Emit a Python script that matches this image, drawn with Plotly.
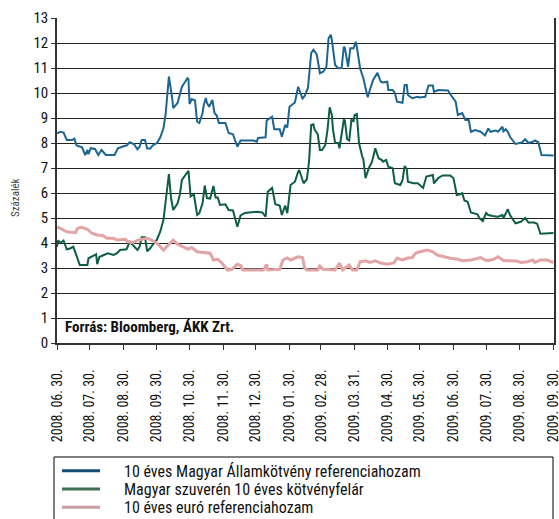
import pandas as pd
import plotly.graph_objects as go

START = "2008-06-30"

# day offsets from 2008-06-30 and values (percent)
huf_days = [0, 3, 6, 9, 14, 16, 18, 23, 26, 28, 29, 31, 35, 38, 41, 45, 53, 56, 62, 64, 67, 71, 74, 76, 78, 81, 83, 86, 88, 92, 95, 98, 100, 101, 103, 106, 107, 111, 113, 115, 118, 120, 121, 122, 124, 127, 129, 131, 134, 135, 137, 138, 140, 142, 143, 145, 147, 149, 155, 158, 162, 166, 169, 181, 184, 185, 192, 193, 198, 200, 205, 207, 210, 212, 214, 219, 222, 226, 228, 231, 234, 236, 239, 240, 242, 245, 248, 250, 252, 253, 256, 259, 262, 264, 265, 268, 270, 273, 275, 276, 279, 282, 284, 286, 288, 291, 295, 298, 300, 304, 305, 309, 311, 313, 318, 320, 322, 323, 327, 332, 334, 339, 342, 346, 347, 351, 360, 362, 367, 369, 373, 376, 379, 381, 385, 390, 394, 397, 399, 404, 406, 410, 411, 413, 415, 417, 422, 428, 431, 434, 438, 440, 443, 446, 457]
huf_vals = [8.39, 8.45, 8.42, 8.12, 8.12, 8.18, 7.9, 7.83, 7.52, 7.72, 7.55, 7.79, 7.76, 7.52, 7.72, 7.52, 7.52, 7.79, 7.88, 7.9, 8.03, 7.95, 7.75, 7.85, 8.12, 8.12, 7.78, 7.78, 7.9, 8.0, 8.22, 8.59, 9.15, 9.6, 10.66, 9.8, 9.4, 9.6, 9.95, 10.25, 10.45, 10.59, 10.56, 9.56, 9.76, 9.7, 8.85, 8.8, 9.2, 9.5, 9.8, 9.6, 9.45, 9.65, 9.72, 9.2, 9.1, 8.8, 8.8, 8.4, 8.35, 7.85, 8.1, 8.1, 8.05, 8.2, 8.23, 8.9, 9.05, 8.55, 8.55, 8.25, 8.72, 8.62, 9.45, 9.62, 10.25, 9.78, 9.88, 10.2, 11.6, 11.73, 11.55, 11.32, 10.79, 10.85, 11.05, 12.19, 12.33, 12.13, 11.12, 10.99, 11.0, 11.85, 11.8, 11.05, 11.79, 11.79, 12.05, 11.85, 10.99, 10.59, 10.2, 9.83, 10.12, 10.52, 10.81, 10.45, 10.42, 10.45, 10.12, 10.12, 10.0, 9.65, 9.61, 10.32, 10.32, 9.92, 9.79, 9.85, 9.82, 9.85, 10.3, 10.3, 10.05, 10.12, 10.1, 9.95, 9.65, 9.12, 9.2, 8.92, 8.92, 8.45, 8.52, 8.45, 8.3, 8.58, 8.45, 8.5, 8.45, 8.65, 8.47, 8.55, 8.45, 8.25, 7.96, 8.02, 8.15, 8.0, 8.05, 8.1, 8.03, 7.52, 7.5]

spread_days = [0, 1, 3, 5, 6, 9, 12, 15, 18, 21, 28, 29, 35, 36, 37, 39, 42, 47, 52, 55, 58, 64, 67, 70, 74, 76, 78, 81, 83, 86, 88, 92, 95, 98, 100, 103, 105, 107, 111, 113, 115, 118, 121, 123, 126, 129, 131, 134, 136, 138, 141, 144, 146, 148, 150, 155, 158, 162, 166, 169, 173, 184, 189, 192, 194, 198, 201, 205, 207, 210, 212, 215, 219, 222, 223, 227, 230, 232, 234, 236, 237, 240, 242, 244, 247, 249, 251, 253, 254, 256, 259, 260, 263, 264, 265, 267, 269, 271, 273, 274, 276, 278, 281, 282, 284, 287, 290, 293, 296, 299, 300, 303, 305, 309, 311, 316, 318, 320, 322, 323, 328, 332, 334, 337, 340, 346, 347, 351, 355, 362, 365, 368, 371, 373, 375, 378, 381, 387, 389, 392, 395, 397, 401, 406, 410, 411, 415, 417, 422, 427, 431, 434, 439, 442, 445, 457]
spread_vals = [3.85, 4.1, 4.0, 4.05, 4.1, 3.75, 3.78, 3.85, 3.48, 3.12, 3.12, 3.39, 3.52, 3.55, 3.15, 3.44, 3.5, 3.59, 3.52, 3.58, 3.72, 3.75, 4.05, 3.92, 3.72, 3.85, 4.23, 4.23, 3.67, 3.8, 3.93, 4.13, 4.45, 4.92, 5.72, 6.76, 5.79, 5.32, 5.59, 5.92, 6.52, 6.72, 6.89, 5.86, 5.95, 5.12, 5.19, 5.59, 6.3, 5.8, 5.78, 6.28, 5.82, 5.82, 5.52, 5.55, 5.32, 5.3, 4.65, 5.1, 5.2, 5.25, 5.22, 5.05, 6.05, 6.2, 5.55, 5.5, 5.12, 5.5, 5.19, 6.32, 6.45, 6.85, 6.92, 6.39, 6.55, 7.25, 8.72, 8.75, 8.55, 8.36, 7.72, 7.72, 7.92, 8.52, 9.43, 9.12, 8.55, 8.0, 8.0, 7.79, 8.79, 8.92, 8.9, 8.16, 8.1, 8.92, 8.88, 9.12, 9.16, 8.0, 7.46, 7.35, 6.59, 6.99, 7.25, 7.79, 7.39, 7.32, 7.25, 7.32, 7.05, 6.99, 6.39, 6.32, 6.5, 7.08, 6.95, 6.45, 6.39, 6.39, 6.32, 6.2, 6.66, 6.72, 6.39, 6.6, 6.7, 6.7, 6.59, 5.92, 5.95, 5.99, 5.7, 5.65, 5.22, 5.15, 4.99, 4.88, 5.2, 5.12, 5.08, 5.05, 5.12, 5.0, 5.35, 5.12, 4.79, 4.85, 5.0, 4.82, 4.82, 4.77, 4.37, 4.4]

euro_days = [0, 5, 9, 17, 19, 23, 28, 32, 37, 42, 46, 52, 55, 63, 65, 70, 75, 83, 88, 92, 98, 102, 107, 111, 116, 121, 124, 129, 141, 144, 148, 152, 157, 161, 166, 169, 171, 190, 193, 194, 205, 208, 212, 215, 222, 226, 228, 230, 240, 242, 245, 256, 260, 263, 269, 272, 276, 279, 284, 288, 293, 298, 304, 310, 313, 318, 322, 327, 330, 334, 341, 346, 350, 356, 362, 369, 373, 381, 387, 390, 394, 397, 402, 406, 411, 417, 423, 427, 433, 438, 440, 445, 451, 457]
euro_vals = [4.65, 4.52, 4.45, 4.41, 4.59, 4.63, 4.55, 4.39, 4.32, 4.3, 4.19, 4.19, 4.12, 4.15, 4.05, 4.02, 4.12, 4.19, 4.1, 3.99, 3.72, 3.9, 4.12, 3.95, 3.85, 3.75, 3.82, 3.65, 3.59, 3.32, 3.35, 3.19, 2.92, 2.95, 3.15, 3.1, 2.92, 2.92, 3.14, 2.92, 2.95, 3.32, 3.4, 3.32, 3.45, 3.42, 2.99, 2.92, 2.92, 3.08, 2.95, 2.92, 3.19, 2.92, 3.12, 2.92, 2.92, 3.25, 3.29, 3.22, 3.29, 3.2, 3.15, 3.2, 3.39, 3.32, 3.39, 3.42, 3.59, 3.65, 3.72, 3.65, 3.52, 3.45, 3.39, 3.35, 3.29, 3.32, 3.38, 3.42, 3.32, 3.3, 3.35, 3.45, 3.3, 3.28, 3.28, 3.22, 3.25, 3.32, 3.22, 3.32, 3.32, 3.22]

tick_dates = ["2008-06-30", "2008-07-30", "2008-08-30", "2008-09-30", "2008-10-30", "2008-11-30",
              "2008-12-30", "2009-01-30", "2009-02-28", "2009-03-31", "2009-04-30", "2009-05-30",
              "2009-06-30", "2009-07-30", "2009-08-30", "2009-09-30"]
tick_labels = ["2008. 06. 30.", "2008. 07. 30.", "2008. 08. 30.", "2008. 09. 30.", "2008. 10. 30.",
               "2008. 11. 30.", "2008. 12. 30.", "2009. 01. 30.", "2009. 02. 28.", "2009. 03. 31.",
               "2009. 04. 30.", "2009. 05. 30.", "2009. 06. 30.", "2009. 07. 30.", "2009. 08. 30.",
               "2009. 09. 30."]

names = ["10 éves Magyar Államkötvény referenciahozam",
         "Magyar szuverén 10 éves kötvényfelár",
         "10 éves euró referenciahozam"]
line_colors = ["#1c6593", "#0e5e40", "#e2a4a4"]
line_widths = [2, 2, 3]
legend_colors = ["#124e76", "#3e6f54", "#cc9ca3"]

FONT = "Liberation Sans Narrow, Roboto Condensed, DejaVu Sans Condensed, Arial Narrow, sans-serif"

# plot area geometry (pixels) used to place the manual legend box
PL, PR, PT, PB = 57, 554, 18, 343


def px_x(px):
    return (px - PL) / (PR - PL)


def px_y(py):
    return (PB - py) / (PB - PT)


def to_dates(days):
    return pd.Timestamp(START) + pd.to_timedelta(days, unit="D")


fig = go.Figure()
for d, v, nm, c, w in zip([huf_days, spread_days, euro_days], [huf_vals, spread_vals, euro_vals],
                          names, line_colors, line_widths):
    fig.add_trace(go.Scatter(x=to_dates(d), y=v, mode="lines", name=nm,
                             line=dict(color=c, width=w), showlegend=False))

shapes = [dict(type="rect", xref="paper", yref="paper", x0=px_x(54), x1=px_x(553),
               y0=px_y(530), y1=px_y(457), line=dict(color="black", width=1))]
annotations = [
    dict(text="<b>Forrás: Bloomberg, ÁKK Zrt.</b>", xref="paper", yref="y",
         x=px_x(63), y=0.63, xanchor="left", yanchor="middle", showarrow=False,
         font=dict(family=FONT, size=15, color="#111")),
    dict(text="Százalék", xref="paper", yref="paper", x=px_x(15), y=px_y(198),
         xanchor="center", yanchor="middle", textangle=-90, showarrow=False,
         font=dict(family=FONT, size=11, color="#444")),
]
legend_rows = [470.7, 489.0, 507.3]
for nm, c, row in zip(names, legend_colors, legend_rows):
    shapes.append(dict(type="line", xref="paper", yref="paper", x0=px_x(62), x1=px_x(100),
                       y0=px_y(row), y1=px_y(row), line=dict(color=c, width=3)))
    annotations.append(dict(text=nm, xref="paper", yref="paper", x=px_x(122), y=px_y(row + 0.5),
                            xanchor="left", yanchor="middle", showarrow=False,
                            font=dict(family=FONT, size=16, color="#111")))

fig.update_layout(
    width=559, height=519,
    margin=dict(l=PL, r=559 - PR, t=PT, b=519 - PB, autoexpand=False),
    paper_bgcolor="white", plot_bgcolor="white",
    font=dict(family=FONT, size=14, color="#111"),
    showlegend=False,
    shapes=shapes,
    annotations=annotations,
)

fig.update_xaxes(type="date", range=[START, "2009-09-30 12:00"], automargin=False,
                 tickmode="array", tickvals=tick_dates, ticktext=tick_labels,
                 tickangle=-90, ticks="outside", ticklen=5, tickcolor="#333",
                 ticklabelstandoff=14, ticklabeloverflow="allow",
                 showline=True, linecolor="#333", linewidth=1.5,
                 showgrid=False, tickfont=dict(family=FONT, size=14, color="#111"))
fig.update_yaxes(range=[0, 13], dtick=1, tick0=0, showgrid=True, gridcolor="#222", gridwidth=1.3,
                 ticks="outside", ticklen=4, tickcolor="#333", automargin=False,
                 showline=True, linecolor="#333", linewidth=1.5, mirror=True,
                 zeroline=False, tickfont=dict(family=FONT, size=15, color="#111"))

fig.write_html("out.html", config={"displayModeBar": False},
               post_script="document.body.style.margin='0';document.body.style.overflow='hidden';")
